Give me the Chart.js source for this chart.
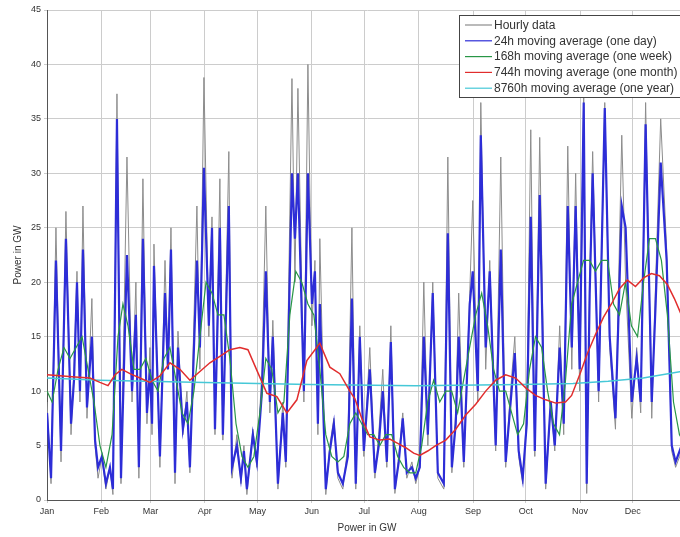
<!DOCTYPE html>
<html>
<head>
<meta charset="utf-8">
<title>Power in GW</title>
<script src="https://cdn.jsdelivr.net/npm/chart.js@4/dist/chart.umd.min.js"></script>
<style>
  html, body { margin: 0; padding: 0; background: #fff; overflow: hidden; }
  #wrap { position: absolute; left: 0; top: 0; width: 700px; height: 537px; }
</style>
</head>
<body>
<div id="wrap"><canvas id="chart" width="700" height="537"></canvas></div>
<script>
// month ticks (day of year where each month starts)
const monthStart = [0, 31, 59, 90, 120, 151, 181, 212, 243, 273, 304, 334];
const monthNames = ['Jan', 'Feb', 'Mar', 'Apr', 'May', 'Jun', 'Jul', 'Aug', 'Sep', 'Oct', 'Nov', 'Dec'];
const yTicks = [0, 5, 10, 15, 20, 25, 30, 35, 40, 45];

// hourly data and 24h average, sampled at the turning points (day of year)
const hourDays = [
  0, 2.3, 5.1, 8.0, 10.8, 13.7, 15.4, 17.1, 18.8, 20.5, 22.8, 25.6, 27.4, 29.1, 31.3, 33.6, 35.9, 37.6,
  39.9, 42.2, 45.6, 48.5, 50.7, 52.4, 54.7, 57.0, 58.7, 59.9, 61.0, 64.4, 67.3, 69.0, 70.7, 73.0, 74.7,
  77.5, 79.8, 81.5, 85.5, 87.2, 89.5, 92.3, 94.1, 95.8, 98.6, 100.3, 103.7, 105.5, 108.3, 110.6, 112.3,
  114.0, 117.4, 119.7, 122.6, 124.8, 127.1, 128.8, 131.7, 134.5, 136.2, 139.7, 141.4, 143.1, 146.5,
  148.8, 151.1, 152.8, 154.5, 155.6, 159.0, 161.3, 163.6, 165.9, 168.7, 171.6, 173.9, 176.1, 178.4,
  180.7, 184.1, 187.0, 189.2, 191.5, 193.8, 196.1, 198.4, 200.6, 202.9, 205.2, 208.1, 210.3, 212.6,
  214.9, 217.2, 220.0, 222.9, 226.3, 228.6, 230.9, 233.1, 234.8, 237.7, 241.1, 242.8, 245.7, 247.4,
  250.2, 252.5, 255.9, 258.8, 261.6, 263.9, 266.8, 269.0, 271.3, 273.6, 275.9, 278.2, 281.0, 284.4,
  287.3, 289.6, 292.4, 294.7, 297.0, 299.3, 301.5, 303.8, 306.1, 307.8, 309.5, 311.2, 314.6, 318.1,
  320.9, 324.2, 327.8, 330.0, 333.5, 336.3, 338.6, 341.4, 344.9, 347.1, 350.0, 353.4, 356.3, 358.5,
  360.8, 364.2
];
const hourlyGW = [
  9, 1.5, 25, 3.5, 26.5, 6, 12, 21, 9, 27, 7.5, 18.5, 5, 2, 4, 1, 3, 0.5,
  37.3, 1.5, 31.5, 9, 20, 2, 29.5, 7, 14, 6, 23.5, 3, 22, 12, 25, 1.5, 15.5,
  6, 10, 2.5, 27, 12, 38.8, 15, 26, 6, 29.5, 5.5, 32, 2, 6, 1.5, 5,
  0.5, 6.5, 3, 12, 27, 8, 16.5, 1, 9, 3, 38.7, 20, 37.8, 9,
  40, 16, 22, 6, 24, 0.5, 5, 7.5, 2, 1, 5, 25, 1, 16,
  4, 14, 2, 6, 12, 3, 16, 0.6, 4, 8, 2, 3.5, 1.5, 3,
  20, 5, 20, 2, 1, 31.5, 2.5, 8, 19, 3, 19, 27.5, 9, 36.5,
  12, 22, 4.5, 31.5, 3, 9, 15, 4, 1.5, 8, 34, 4, 33.3, 1,
  9, 4.5, 16, 6, 32.5, 12, 30, 10, 37.5, 0.6, 20, 32, 9, 36.5,
  14, 6.5, 33.5, 20, 7.5, 14, 8, 36.5, 7.5, 20, 35, 23, 4.5, 3,
  4, 6
];
const dailyGW = [
  8, 2, 22, 4.5, 24, 7, 11, 20, 10, 23, 8.5, 15, 5.5, 3, 4, 1.5, 3, 1,
  35, 2, 22.5, 10, 17, 3, 24, 8, 12, 7, 21.5, 4, 19, 12, 23, 2.5, 14,
  6.5, 9, 3, 22, 14, 30.5, 16, 25, 6.5, 25, 6, 27, 3, 5, 2, 4.5,
  1, 6, 3.5, 10, 21, 9, 15, 1.5, 8, 3.5, 30, 24, 30, 10,
  30, 18, 21, 7, 18, 1, 4.5, 7, 2.5, 1.5, 4, 18.5, 1.5, 15,
  4.5, 12, 2.5, 5, 10, 3.5, 14.5, 1, 3.5, 7.5, 2.5, 3, 2, 3,
  15, 6, 19, 2.5, 1.5, 24.5, 3, 7, 15, 3.5, 18, 21, 10, 33.5,
  14, 21, 5, 23, 3.5, 8, 13.5, 4.5, 2, 7, 26, 4.5, 28, 1.5,
  9, 5, 14, 7, 27, 14, 27, 12, 36.5, 1.5, 19, 30, 10, 36,
  15, 7.5, 27, 25, 9, 13, 9, 34.5, 9, 18, 31, 22, 5, 3.5,
  4.5, 6
];

// 168h moving average
const weekDays = [
  0, 2.9, 6.3, 9.7, 13.1, 16.6, 20.0, 23.4, 26.8, 30.2, 33.6, 37.1, 40.5, 43.3, 46.2, 49.6, 53.0, 56.4,
  59.9, 63.3, 66.7, 70.1, 73.6, 77.0, 80.4, 83.8, 87.2, 90.7, 94.1, 97.5, 100.9, 104.3, 107.8, 111.2,
  114.6, 118.0, 121.4, 124.8, 128.2, 131.7, 135.1, 138.5, 141.9, 145.3, 148.8, 152.2, 155.6, 159.0,
  162.4, 165.9, 169.3, 172.7, 176.1, 179.5, 182.9, 186.4, 189.8, 193.2, 196.6, 200.0, 203.4, 206.9,
  210.3, 213.7, 217.1, 220.5, 224.0, 227.4, 230.8, 234.2, 237.6, 241.0, 244.5, 247.9, 251.3, 254.7,
  258.1, 261.6, 265.0, 268.4, 271.8, 275.2, 278.6, 282.1, 285.5, 288.9, 292.3, 295.7, 299.2, 302.6,
  306.0, 309.4, 312.8, 316.3, 319.7, 323.1, 326.5, 329.9, 333.3, 336.8, 340.2, 343.6, 347.0, 350.4,
  353.8, 357.3, 360.7, 364.5
];
const weeklyGW = [
  10, 9, 12, 14, 13, 14, 15, 12, 9, 5, 3, 6, 15, 18, 16, 12, 12, 13,
  11, 10, 13, 14, 11, 8, 7, 10, 15, 20, 19, 17, 17, 13, 7, 4,
  3, 4, 8, 13, 12, 8, 9, 17, 21, 20, 18, 17, 12, 6,
  4, 3.5, 4, 7, 8, 7, 6, 6, 5, 6, 6, 4, 3, 2.5,
  2.5, 5, 9, 11, 9, 10, 10, 8, 11, 14, 17, 19, 16, 12,
  10, 10, 8, 6, 7, 12, 15, 14, 10, 7, 6, 11, 18, 20,
  22, 22, 21, 22, 22, 18, 17, 20, 16, 15, 20, 24, 24, 22,
  17, 9, 6, 5
];

// 744h moving average
const monthDays = [
  0, 7.4, 16.0, 24.5, 30.2, 34.8, 38.8, 42.7, 47.3, 53.0, 58.7, 64.4, 70.1, 75.8, 81.5, 87.2, 92.9,
  98.6, 104.3, 110.0, 114.6, 119.7, 125.4, 131.1, 136.8, 142.5, 148.2, 155.6, 161.3, 167.0, 172.7,
  175.6, 179.5, 184.1, 189.8, 195.5, 200.0, 204.6, 209.1, 212.6, 217.1, 221.7, 227.4, 233.1, 238.8,
  244.5, 250.2, 255.9, 261.6, 267.3, 273.0, 278.6, 284.4, 290.1, 295.7, 299.2, 303.8, 308.3, 312.8,
  317.4, 321.9, 326.5, 331.0, 335.6, 340.2, 344.7, 349.3, 353.8, 357.8, 361.8, 364.5
];
const monthlyGW = [
  11.5, 11.4, 11.3, 11.2, 10.8, 10.5, 11.5, 12.0, 11.6, 11.2, 10.8, 11.4, 12.6, 12.0, 11.0, 11.8, 12.6,
  13.2, 13.8, 14.0, 13.8, 11.9, 9.8, 9.5, 8.0, 9.2, 12.8, 14.4, 12.2, 11.6, 10.0,
  9.3, 7.5, 5.8, 5.5, 5.6, 5.2, 4.8, 4.3, 4.1, 4.5, 5.0, 5.5, 6.5, 7.8,
  8.8, 10.0, 11.0, 11.5, 11.2, 10.3, 9.6, 9.2, 8.9, 9.0, 9.6, 11.5, 13.5, 15.2,
  16.8, 18.0, 19.4, 20.2, 19.6, 20.4, 20.8, 20.6, 19.8, 18.5, 17.0, 16.0
];

// 8760h moving average
const yearDays = [0, 30, 90, 150, 210, 270, 300, 320, 340, 365];
const yearlyGW = [11.2, 11.0, 10.8, 10.6, 10.5, 10.6, 10.7, 10.9, 11.2, 11.9];

const labels = [
  'Hourly data',
  '24h moving average (one day)',
  '168h moving average (one week)',
  '744h moving average (one month)',
  '8760h moving average (one year)'
];

function pts(xs, ys) {
  return xs.map((x, i) => ({ x: x, y: ys[i] }));
}

function line(label, xs, ys, color, width, order) {
  return {
    label: label,
    data: pts(xs, ys),
    borderColor: color,
    borderWidth: width,
    pointRadius: 0,
    tension: 0,
    order: order
  };
}

// legend box drawn inside the plot, top right
const boxLegend = {
  id: 'boxLegend',
  afterDraw(chart) {
    const ctx = chart.ctx;
    const x0 = 459.5, y0 = 15.5;
    ctx.save();
    ctx.fillStyle = '#fff';
    ctx.fillRect(x0, y0, 260, 82);
    ctx.strokeStyle = '#444';
    ctx.lineWidth = 1;
    ctx.strokeRect(x0, y0, 260, 82);
    ctx.font = '12px "Liberation Sans", Arial, sans-serif';
    ctx.textBaseline = 'middle';
    chart.data.datasets.forEach((ds, i) => {
      const y = 25 + i * 15.8;
      ctx.strokeStyle = ds.borderColor;
      ctx.lineWidth = 1.2;
      ctx.beginPath();
      ctx.moveTo(465, y);
      ctx.lineTo(492, y);
      ctx.stroke();
      ctx.fillStyle = '#333';
      ctx.fillText(ds.label, 494, y + 0.5);
    });
    ctx.restore();
  }
};

const ctx = document.getElementById('chart').getContext('2d');
new Chart(ctx, {
  type: 'line',
  data: {
    datasets: [
      line(labels[0], hourDays, hourlyGW, 'rgb(140,140,140)', 1, 5),
      line(labels[1], hourDays, dailyGW, 'rgb(45,45,215)', 2.2, 4),
      line(labels[2], weekDays, weeklyGW, 'rgb(40,150,70)', 1.2, 3),
      line(labels[3], monthDays, monthlyGW, 'rgb(225,45,45)', 1.5, 1),
      line(labels[4], yearDays, yearlyGW, 'rgb(70,200,215)', 1.5, 2)
    ]
  },
  options: {
    responsive: false,
    animation: false,
    devicePixelRatio: 1,
    layout: { padding: { top: 10, right: 13, left: 0, bottom: 0 } },
    plugins: {
      legend: { display: false },
      tooltip: { enabled: false }
    },
    scales: {
      x: {
        type: 'linear',
        min: 0,
        max: 365,
        afterBuildTicks: (axis) => { axis.ticks = monthStart.map(v => ({ value: v })); },
        afterFit: (axis) => { axis.height = 37; },
        ticks: {
          autoSkip: false,
          maxRotation: 0,
          padding: 3,
          color: '#333',
          font: { size: 9, family: 'Liberation Sans' },
          callback: (v) => monthNames[monthStart.indexOf(v)]
        },
        grid: { color: '#cccccc', tickLength: 3 },
        border: { color: '#555' },
        title: {
          display: true,
          text: 'Power in GW',
          color: '#333',
          font: { size: 10, family: 'Liberation Sans' },
          padding: { top: 0, bottom: 3 }
        }
      },
      y: {
        min: 0,
        max: 45,
        afterBuildTicks: (axis) => { axis.ticks = yTicks.map(v => ({ value: v })); },
        afterFit: (axis) => { axis.width = 47; },
        ticks: {
          padding: 3,
          color: '#333',
          font: { size: 9, family: 'Liberation Sans' }
        },
        grid: { color: '#cccccc', tickLength: 3 },
        border: { color: '#555' },
        title: {
          display: true,
          text: 'Power in GW',
          color: '#333',
          font: { size: 10, family: 'Liberation Sans' },
          padding: { top: 12, bottom: 0 }
        }
      }
    }
  },
  plugins: [boxLegend]
});
</script>
</body>
</html>
